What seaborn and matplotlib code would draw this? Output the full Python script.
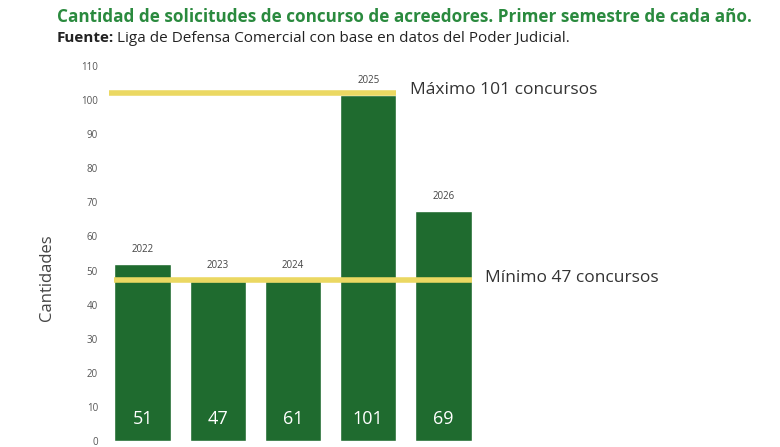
import matplotlib
matplotlib.use("Agg")
import matplotlib.pyplot as plt
import seaborn as sns
import pandas as pd

years = ["2022", "2023", "2024", "2025", "2026"]
bar_heights = [52, 47, 47, 101.5, 67.5]
value_labels = ["51", "47", "61", "101", "69"]
max_value = 102
min_value = 47.2
max_text = "Máximo 101 concursos"
min_text = "Mínimo 47 concursos"
y_ticks = [0, 10, 20, 30, 40, 50, 60, 70, 80, 90, 100, 110]

sns.set_theme(style="white")
plt.rcParams['font.family'] = ['Open Sans', 'DejaVu Sans']

GREEN = "#1f6b2f"
YELLOW = "#ebd862"
TITLE_GREEN = "#2a8a3e"

df = pd.DataFrame({"year": years, "value": bar_heights})

fig = plt.figure(figsize=(7.8, 4.47), dpi=100)
W, H = 780, 447
ax = fig.add_axes([105 / W, (H - 441) / H, (481 - 105) / W, (441 - 66) / H])

sns.barplot(data=df, x="year", y="value", color=GREEN, width=0.75,
            saturation=1, ax=ax, zorder=2)

ax.set_ylim(0, 110)
ax.set_xlim(-0.5, 4.5)
ax.set_yticks(y_ticks)
ax.set_yticklabels([str(t) for t in y_ticks], fontsize=7, color="#555555")
ax.tick_params(axis="y", length=0, pad=5)
ax.set_xticks([])
ax.set_xlabel("")
ax.set_ylabel("Cantidades", fontsize=12, color="#444444")
ax.yaxis.set_label_coords((55 - 105) / (481 - 105), (441 - 278) / (441 - 66))
for s in ax.spines.values():
    s.set_visible(False)

# Reference lines
ax.plot([-0.45, 3.375], [max_value, max_value], color=YELLOW, lw=4, zorder=3,
        solid_capstyle="butt", clip_on=False)
ax.plot([-0.375, 4.375], [min_value, min_value], color=YELLOW, lw=4, zorder=3,
        solid_capstyle="butt", clip_on=False)
ax.text(3.55, max_value + 1.0, max_text, fontsize=12.5, color="#333333",
        va="center", ha="left")
ax.text(4.55, min_value + 0.6, min_text, fontsize=12.5, color="#333333",
        va="center", ha="left", clip_on=False)

for i, (y, h, lab) in enumerate(zip(years, bar_heights, value_labels)):
    top = max(h, min_value)
    ax.text(i, top + 4.3, y, fontsize=7, color="#444444", ha="center", va="center")
    ax.text(i, 6.5, lab, fontsize=13, color="white", ha="center", va="center",
            zorder=4)

fig.text(57 / W, 1 - 17 / H,
         "Cantidad de solicitudes de concurso de acreedores. Primer semestre de cada año.",
         fontsize=12.35, fontweight="bold", color=TITLE_GREEN, ha="left", va="center")
t1 = fig.text(57 / W, 1 - 38 / H, "Fuente:", fontsize=11.0, fontweight="bold",
              color="#222222", ha="left", va="center")
fig.canvas.draw()
bb = t1.get_window_extent()
fig.text((bb.x1 + 3) / W, 1 - 38 / H,
         "Liga de Defensa Comercial con base en datos del Poder Judicial.",
         fontsize=11.0, color="#222222", ha="left", va="center")

fig.savefig("out.png", dpi=100)
